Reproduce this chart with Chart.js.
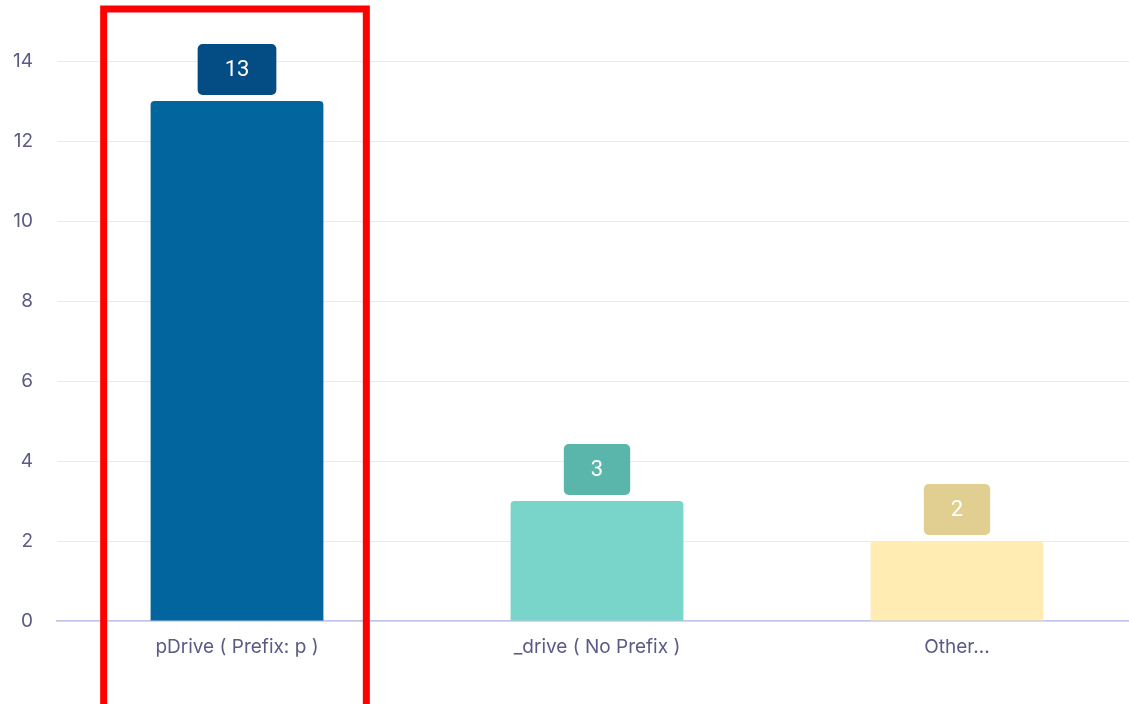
<!DOCTYPE html>
<html>
<head>
<meta charset="utf-8">
<script src="https://cdn.jsdelivr.net/npm/chart.js@4"></script>
<style>
  html, body { margin: 0; padding: 0; background: #fff; overflow: hidden; }
  #wrap { width: 1137px; height: 704px; }
</style>
</head>
<body>
<div id="wrap"><canvas id="chart"></canvas></div>
<script>
// chart data
const categories = ['pDrive ( Prefix: p )', '_drive ( No Prefix )', 'Other...'];
const counts = [13, 3, 2];
const yTicks = [0, 2, 4, 6, 8, 10, 12, 14];

const barColors = ['#02659e', '#79d4ca', '#feecb3'];
const badgeColors = ['#034d84', '#5ab6aa', '#e0cf91'];

// value badges above each bar
const badgePlugin = {
    id: 'badges',
    afterDatasetsDraw(chart) {
        const ctx = chart.ctx;
        const meta = chart.getDatasetMeta(0);
        ctx.save();
        ctx.font = '22px Roboto, "Liberation Sans", sans-serif';
        ctx.textAlign = 'center';
        ctx.textBaseline = 'middle';
        meta.data.forEach((bar, i) => {
            const text = String(counts[i]);
            const w = ctx.measureText(text).width + 54;
            const h = 51;
            const x = bar.x - w / 2;
            const y = bar.y - 6 - h;
            ctx.fillStyle = badgeColors[i];
            ctx.beginPath();
            ctx.roundRect(x, y, w, h, 5);
            ctx.fill();
            ctx.fillStyle = '#ffffff';
            ctx.fillText(text, bar.x, y + h / 2 + 1);
        });
        ctx.restore();
    }
};

// red highlight box around the first category
const highlightPlugin = {
    id: 'highlight',
    afterDraw(chart) {
        const ctx = chart.ctx;
        const bar = chart.getDatasetMeta(0).data[0];
        const half = bar.width * 0.76;
        ctx.save();
        ctx.strokeStyle = '#ff0000';
        ctx.lineWidth = 7;
        ctx.strokeRect(bar.x - half - 2, chart.chartArea.top - 52, half * 2, chart.height);
        ctx.restore();
    }
};

const tickFont = { size: 19, family: 'Inter, "Open Sans", sans-serif' };

new Chart(document.getElementById('chart'), {
    type: 'bar',
    data: {
        labels: categories,
        datasets: [{
            data: counts,
            backgroundColor: barColors,
            borderRadius: { topLeft: 4, topRight: 4 },
            borderSkipped: 'bottom',
            barPercentage: 0.48,
            categoryPercentage: 1
        }]
    },
    options: {
        responsive: true,
        maintainAspectRatio: false,
        animation: false,
        layout: { padding: { top: 61, bottom: 0, left: 0, right: 0 } },
        plugins: {
            legend: { display: false },
            tooltip: { enabled: false }
        },
        scales: {
            x: {
                afterFit(scale) { scale.height = 83; },
                grid: { display: false, drawTicks: false },
                border: { color: '#bfc5ea', width: 1.5 },
                ticks: { padding: 15, color: '#5b5a86', font: tickFont }
            },
            y: {
                min: 0,
                max: 14,
                afterFit(scale) { scale.width = 57; },
                afterBuildTicks(scale) { scale.ticks = yTicks.map(v => ({ value: v })); },
                grid: { color: '#e9eaf0', drawTicks: false },
                border: { display: false },
                ticks: { padding: 24, color: '#5b5a86', font: tickFont }
            }
        }
    },
    plugins: [badgePlugin, highlightPlugin]
});
</script>
</body>
</html>
